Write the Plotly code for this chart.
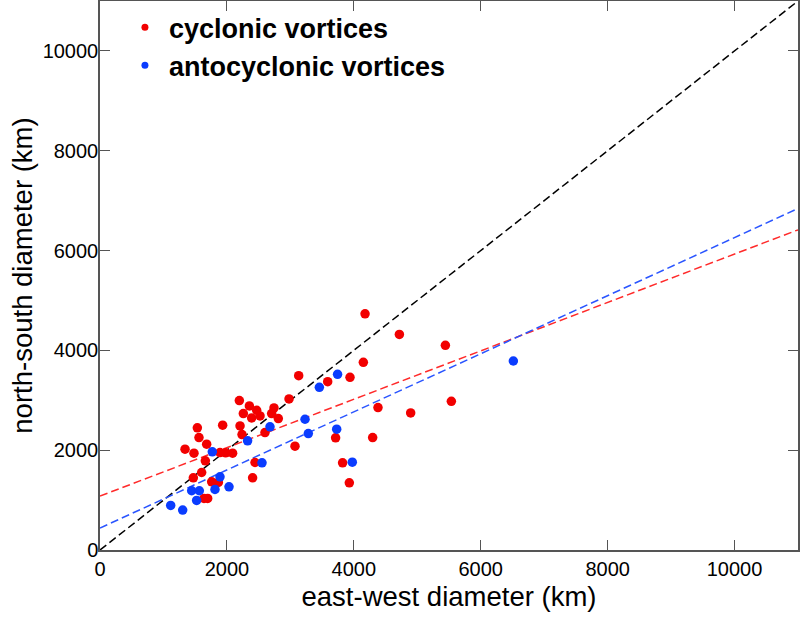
import plotly.graph_objects as go

# cyclonic vortices (east-west, north-south) in km
cyc_ew = [4177, 4718, 4150, 3131, 3940, 3588, 2979, 2196, 2354, 2469, 2742, 2259, 2390, 2522,
          2705, 2810, 1534, 1933, 2207, 1560, 2238, 2600, 1681, 3073, 1340, 1481, 1891, 1980,
          2090, 1660, 2443, 1602, 1471, 2405, 1760, 1865, 1639, 1697, 3713, 4297, 4381, 3823,
          3929, 5443, 4896, 5537]
cyc_ns = [4733, 4320, 3760, 3493, 3460, 3373, 3027, 2993, 2887, 2800, 2847, 2733, 2647, 2687,
          2733, 2633, 2447, 2500, 2487, 2253, 2313, 2353, 2120, 2080, 2020, 1940, 1953, 1947,
          1940, 1787, 1753, 1553, 1447, 1447, 1367, 1353, 1033, 1033, 2247, 2253, 2853, 1747,
          1347, 4100, 2747, 2980]

# anticyclonic vortices
anti_ew = [3744, 3457, 3231, 2679, 3730, 3283, 2326, 1770, 2553, 3976, 1891, 2033, 1812, 1445,
           1565, 1523, 1114, 1303, 6514]
anti_ns = [3520, 3260, 2620, 2467, 2420, 2333, 2187, 1967, 1747, 1760, 1467, 1267, 1213, 1187,
           1187, 993, 893, 800, 3787]

# linear fits (intercept, slope)
cyc_fit = (1080, 0.485)
anti_fit = (440, 0.582)
line_x = [0, 11000]

tick_vals = [0, 2000, 4000, 6000, 8000, 10000]
tick_text = ["0", "2000", "4000", "6000", "8000", "10000"]

RED = "#f20000"
BLUE = "#0a3cff"
FONT = "Liberation Sans, Arial, sans-serif"

fig = go.Figure()
fig.add_trace(go.Scatter(x=line_x, y=line_x, mode="lines", showlegend=False,
                         line=dict(color="black", width=1.5, dash="8px,4px")))
fig.add_trace(go.Scatter(x=line_x, y=[cyc_fit[0] + cyc_fit[1] * v for v in line_x], mode="lines",
                         showlegend=False, line=dict(color="#ff2a2a", width=1.5, dash="8px,4px")))
fig.add_trace(go.Scatter(x=line_x, y=[anti_fit[0] + anti_fit[1] * v for v in line_x], mode="lines",
                         showlegend=False, line=dict(color="#2a55ff", width=1.5, dash="8px,4px")))
fig.add_trace(go.Scatter(x=cyc_ew, y=cyc_ns, mode="markers", showlegend=False,
                         marker=dict(color=RED, size=9.5, line=dict(width=0))))
fig.add_trace(go.Scatter(x=anti_ew, y=anti_ns, mode="markers", showlegend=False,
                         marker=dict(color=BLUE, size=9.5, line=dict(width=0))))
# legend entries
fig.add_trace(go.Scatter(x=[None], y=[None], mode="markers", name="cyclonic vortices",
                         marker=dict(color=RED, size=7)))
fig.add_trace(go.Scatter(x=[None], y=[None], mode="markers", name="antocyclonic vortices",
                         marker=dict(color=BLUE, size=7)))

axis_common = dict(
    range=[0, 11000], showgrid=False, zeroline=False, showline=True, linecolor="#555555",
    linewidth=1.5, mirror="ticks", ticks="inside", ticklen=10, tickcolor="#555555",
    tickwidth=1.2, tickvals=tick_vals, ticktext=tick_text,
    tickfont=dict(family=FONT, size=20, color="black"),
)
fig.update_xaxes(**axis_common,
                 title=dict(text="east-west diameter (km)", standoff=8,
                            font=dict(family=FONT, size=27.5, color="black")))
fig.update_yaxes(**axis_common, ticklabelstandoff=-4,
                 title=dict(text="north-south diameter (km)", standoff=2,
                            font=dict(family=FONT, size=27.5, color="black")))

fig.update_layout(
    width=800, height=617,
    margin=dict(l=100, r=2, t=1, b=67, autoexpand=False),
    plot_bgcolor="white", paper_bgcolor="white",
    legend=dict(x=0.03, y=0.996, xanchor="left", yanchor="top", bgcolor="rgba(0,0,0,0)",
                font=dict(family=FONT, size=27, color="black", weight="bold"),
                tracegroupgap=0, itemwidth=38),
)

fig.write_html("out.html", post_script="document.body.style.margin='0';",
               config={"displayModeBar": False})
